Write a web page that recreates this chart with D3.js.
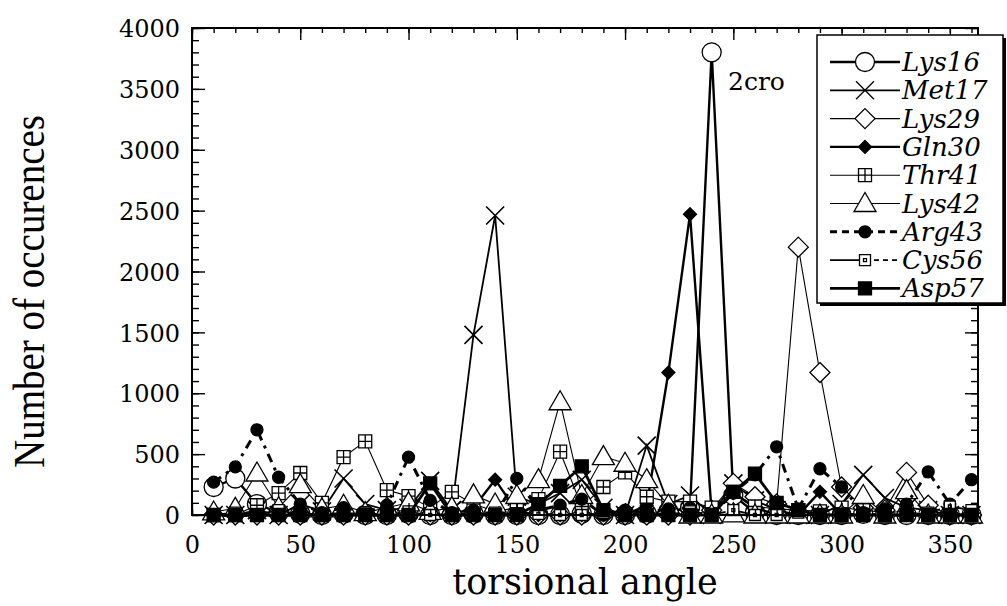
<!DOCTYPE html>
<html>
<head>
<meta charset="utf-8">
<script src="https://cdn.jsdelivr.net/npm/d3@7"></script>
<style>
  body { margin: 0; background: #fff; }
  svg { display: block; }
</style>
</head>
<body>
<div class="chart"></div>
<script>
// torsional angle bins
var angles = [10,20,30,40,50,60,70,80,90,100,110,120,130,140,150,160,170,180,190,200,210,220,230,240,250,260,270,280,290,300,310,320,330,340,350,360];

var lys16 = [230,300,90,20,10,0,10,0,0,10,0,0,10,0,0,0,0,10,0,0,10,30,60,3800,160,20,0,0,0,0,10,0,0,0,0,0];
var met17 = [0,0,40,0,90,30,300,90,40,60,280,40,1480,2460,150,90,180,290,60,0,570,90,160,0,260,120,40,0,0,90,330,140,60,40,0,0];
var lys29 = [0,0,0,0,0,0,0,0,0,0,0,0,0,0,0,0,0,0,0,0,0,0,0,40,260,150,90,2200,1170,230,60,40,350,80,0,0];
var gln30 = [0,10,0,0,0,0,0,0,0,0,0,0,60,290,30,0,0,0,0,0,80,1170,2470,20,180,60,0,0,190,0,0,0,0,0,0,0];
var thr41 = [0,0,80,180,345,100,475,605,205,155,60,190,90,30,60,130,520,70,230,350,150,110,110,60,190,70,50,40,30,60,40,20,30,0,10,0];
var lys42 = [25,55,345,60,250,50,80,20,60,100,30,60,165,90,160,290,930,160,480,425,290,80,0,0,10,0,0,0,0,0,160,0,200,0,0,0];
var arg43 = [270,395,700,310,90,20,60,20,80,475,120,20,40,0,300,40,80,130,0,40,20,50,60,0,180,330,560,50,380,230,20,50,90,355,90,290];
var cys56 = [0,20,0,40,0,10,0,20,0,30,0,10,0,20,0,10,0,0,20,0,10,0,30,0,40,0,0,20,0,10,0,0,0,20,70,40];
var asp57 = [0,0,0,0,0,0,0,0,0,0,260,0,0,0,0,90,240,400,40,0,0,0,0,0,190,340,100,40,0,0,0,0,0,0,0,0];

var seriesNames = ["Lys16","Met17","Lys29","Gln30","Thr41","Lys42","Arg43","Cys56","Asp57"];
var seriesValues = [lys16, met17, lys29, gln30, thr41, lys42, arg43, cys56, asp57];

var xTicks = [0,50,100,150,200,250,300,350];
var yTicks = [0,500,1000,1500,2000,2500,3000,3500,4000];

var W = 1007, H = 606;
// note: "top" is taken by window.top, so the frame edges get their own names
var frameL = 192, frameR = 978, frameT = 28, frameB = 515;

var svg = d3.select(".chart").append("svg").attr("width", W).attr("height", H);

var x = d3.scaleLinear().domain([0, 363]).range([frameL, frameR]);
var y = d3.scaleLinear().domain([0, 4000]).range([frameB, frameT]);

// how each series looks: line width, dash, marker
var styles = {
  Lys16: { w: 2.4, dash: null, sym: "circle" },
  Met17: { w: 1.8, dash: null, sym: "cross" },
  Lys29: { w: 1.1, dash: null, sym: "diamond" },
  Gln30: { w: 2.4, dash: null, sym: "fdiamond" },
  Thr41: { w: 1.1, dash: null, sym: "gridsq" },
  Lys42: { w: 1.1, dash: null, sym: "triangle" },
  Arg43: { w: 3, dash: "9,6,3,6", sym: "fcircle" },
  Cys56: { w: 1.8, dash: "12,4,4,4", sym: "dotsq" },
  Asp57: { w: 2.8, dash: null, sym: "fsquare" }
};

function markerPath(sym) {
  var p = d3.path();
  if (sym == "circle") { p.moveTo(9.5, 0); p.arc(0, 0, 9.5, 0, 2 * Math.PI); }
  else if (sym == "fcircle") { p.moveTo(6, 0); p.arc(0, 0, 6, 0, 2 * Math.PI); }
  else if (sym == "cross") { p.moveTo(-9, -9); p.lineTo(9, 9); p.moveTo(9, -9); p.lineTo(-9, 9); }
  else if (sym == "diamond") { p.moveTo(0, -10); p.lineTo(10, 0); p.lineTo(0, 10); p.lineTo(-10, 0); p.closePath(); }
  else if (sym == "fdiamond") { p.moveTo(0, -6.5); p.lineTo(6.5, 0); p.lineTo(0, 6.5); p.lineTo(-6.5, 0); p.closePath(); }
  else if (sym == "triangle") { p.moveTo(0, -11); p.lineTo(11, 8); p.lineTo(-11, 8); p.closePath(); }
  else if (sym == "gridsq") { p.rect(-6.5, -6.5, 13, 13); p.moveTo(0, -6.5); p.lineTo(0, 6.5); p.moveTo(-6.5, 0); p.lineTo(6.5, 0); }
  else if (sym == "dotsq") { p.rect(-5.5, -5.5, 11, 11); p.rect(-1.5, -1.5, 3, 3); }
  else if (sym == "fsquare") { p.rect(-6.5, -6.5, 13, 13); }
  return p.toString();
}

function markerFill(sym) {
  return (sym == "fcircle" || sym == "fdiamond" || sym == "fsquare") ? "#000" : "#fff";
}

var line = d3.line().x(function(d) { return x(d[0]); }).y(function(d) { return y(d[1]); });

var plot = svg.append("g").attr("class", "plot");

seriesNames.forEach(function(name, i) {
  var st = styles[name];
  var pts = angles.map(function(a, j) { return [a, seriesValues[i][j]]; });
  var g = plot.append("g").attr("class", "series-" + name);
  g.append("path").datum(pts)
    .attr("d", line)
    .attr("fill", "none")
    .attr("stroke", "#000")
    .attr("stroke-width", st.w)
    .attr("stroke-linejoin", "miter")
    .attr("stroke-dasharray", st.dash);
  g.selectAll("path.mk").data(pts).enter().append("path")
    .attr("class", "mk")
    .attr("d", markerPath(st.sym))
    .attr("transform", function(d) { return "translate(" + x(d[0]) + "," + y(d[1]) + ")"; })
    .attr("fill", markerFill(st.sym))
    .attr("stroke", "#000")
    .attr("stroke-width", st.sym == "cross" ? 1.6 : 1.3);
});

// frame and inward ticks
var minorY = d3.range(0, 4001, 100), minorX = d3.range(0, 361, 10);
function styleAxis(g) {
  g.select(".domain").remove();
  g.selectAll(".tick line").attr("stroke", "#000").attr("stroke-width", 1.4);
}
svg.append("g").attr("transform", "translate(" + frameL + ",0)")
  .call(d3.axisRight(y).tickValues(minorY).tickSize(7).tickFormat("")).call(styleAxis);
svg.append("g").attr("transform", "translate(" + frameL + ",0)")
  .call(d3.axisRight(y).tickValues(yTicks).tickSize(13).tickFormat("")).call(styleAxis);
svg.append("g").attr("transform", "translate(" + frameR + ",0)")
  .call(d3.axisLeft(y).tickValues(minorY).tickSize(7).tickFormat("")).call(styleAxis);
svg.append("g").attr("transform", "translate(" + frameR + ",0)")
  .call(d3.axisLeft(y).tickValues(yTicks).tickSize(13).tickFormat("")).call(styleAxis);
svg.append("g").attr("transform", "translate(0," + frameT + ")")
  .call(d3.axisBottom(x).tickValues(minorX).tickSize(5).tickFormat("")).call(styleAxis);
svg.append("g").attr("transform", "translate(0," + frameT + ")")
  .call(d3.axisBottom(x).tickValues(xTicks).tickSize(12).tickFormat("")).call(styleAxis);
svg.append("g").attr("transform", "translate(0," + frameB + ")")
  .call(d3.axisTop(x).tickValues(minorX).tickSize(5).tickFormat("")).call(styleAxis);
svg.append("g").attr("transform", "translate(0," + frameB + ")")
  .call(d3.axisTop(x).tickValues(xTicks).tickSize(12).tickFormat("")).call(styleAxis);

svg.append("rect").attr("x", frameL).attr("y", frameT).attr("width", frameR - frameL).attr("height", frameB - frameT)
  .attr("fill", "none").attr("stroke", "#000").attr("stroke-width", 2);

// tick labels
var yl = svg.append("g").attr("transform", "translate(" + (frameL - 12) + ",0)")
  .call(d3.axisLeft(y).tickValues(yTicks).tickSize(0).tickPadding(0).tickFormat(d3.format("d")));
yl.select(".domain").remove();
yl.selectAll("text").attr("font-family", "DejaVu Serif").attr("font-size", 24).attr("fill", "#000").attr("dy", "0.36em");

var xl = svg.append("g").attr("transform", "translate(0," + (frameB + 21) + ")")
  .call(d3.axisBottom(x).tickValues(xTicks).tickSize(0).tickPadding(0).tickFormat(d3.format("d")));
xl.select(".domain").remove();
xl.selectAll("text").attr("font-family", "DejaVu Serif").attr("font-size", 24).attr("fill", "#000").attr("dy", "0.71em");

// axis titles
svg.append("text").attr("x", (frameL + frameR) / 2).attr("y", 594)
  .attr("text-anchor", "middle").attr("font-family", "DejaVu Serif").attr("font-size", 35)
  .text("torsional angle");
svg.append("text").attr("transform", "translate(44," + ((frameT + frameB) / 2 + 20) + ") rotate(-90) scale(1,1.15)")
  .attr("text-anchor", "middle").attr("font-family", "Liberation Serif").attr("font-size", 39)
  .text("Number of occurences");

// label next to the big peak
svg.append("text").attr("x", 728).attr("y", 90)
  .attr("font-family", "DejaVu Serif").attr("font-size", 25).text("2cro");

// legend
var lg = svg.append("g").attr("class", "legend");
lg.append("rect").attr("x", 820).attr("y", 38).attr("width", 186).attr("height", 268).attr("fill", "#000");
lg.append("rect").attr("x", 817).attr("y", 35).attr("width", 186).attr("height", 268)
  .attr("fill", "#fff").attr("stroke", "#000").attr("stroke-width", 1.5);

seriesNames.forEach(function(name, i) {
  var st = styles[name];
  var ly = 62 + i * 28.3;
  var row = lg.append("g").attr("transform", "translate(0," + ly + ")");
  if (name == "Cys56") {
    row.append("line").attr("x1", 830).attr("x2", 865).attr("stroke", "#000").attr("stroke-width", st.w);
    row.append("line").attr("x1", 865).attr("x2", 900).attr("stroke", "#000").attr("stroke-width", st.w).attr("stroke-dasharray", "5,4");
  } else if (name == "Arg43") {
    row.append("line").attr("x1", 830).attr("x2", 900).attr("stroke", "#000").attr("stroke-width", st.w).attr("stroke-dasharray", "7,5");
  } else {
    row.append("line").attr("x1", 830).attr("x2", 900).attr("stroke", "#000").attr("stroke-width", st.w);
  }
  row.append("path").attr("d", markerPath(st.sym)).attr("transform", "translate(865,0)")
    .attr("fill", markerFill(st.sym)).attr("stroke", "#000").attr("stroke-width", 1.3);
  row.append("text").attr("x", 902).attr("y", 9)
    .attr("font-family", "DejaVu Serif").attr("font-style", "italic").attr("font-size", 26)
    .text(name);
});
</script>
</body>
</html>
